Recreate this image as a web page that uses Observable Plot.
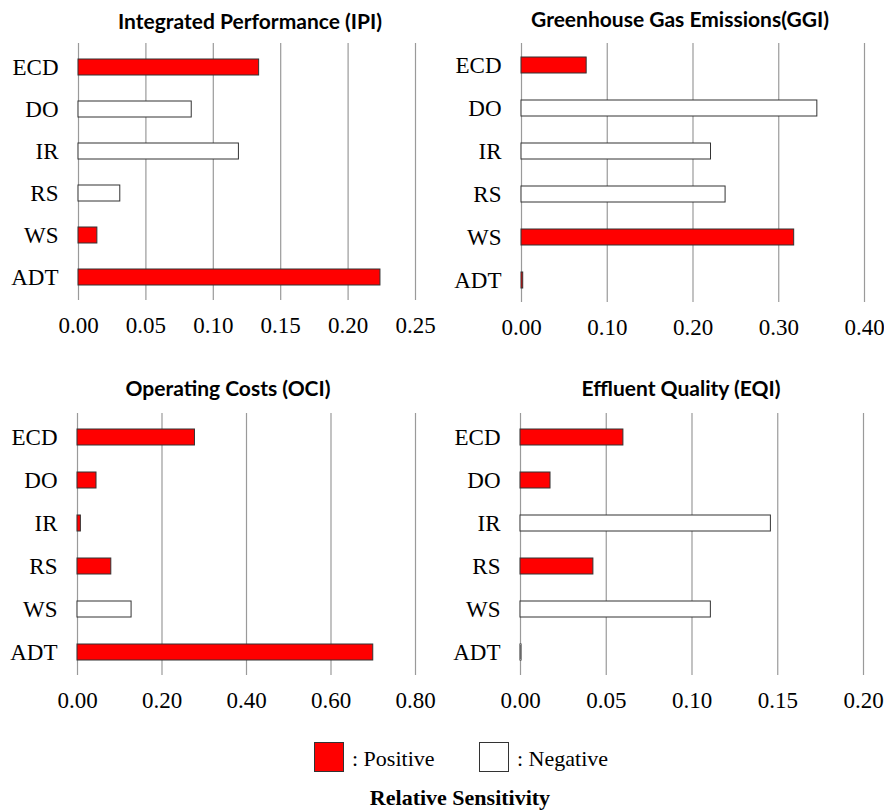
<!DOCTYPE html>
<html>
<head>
<meta charset="utf-8">
<script src="https://cdn.jsdelivr.net/npm/d3@7"></script>
<script src="https://cdn.jsdelivr.net/npm/@observablehq/plot@0.6"></script>
<style>
  html, body { margin: 0; padding: 0; background: #fff; }
  #chart { position: relative; width: 884px; height: 810px; background: #fff; overflow: hidden; }
  .panel { position: absolute; }
  .panel svg text { font-family: "Liberation Serif", "Times New Roman", serif !important; font-size: 23px !important; fill: #000; }
  .title { position: absolute; transform: translate(-50%, -50%); white-space: nowrap;
           font-family: Lato, "Open Sans", sans-serif; font-weight: 700; font-size: 21px; color: #000; }
  .legend-box { position: absolute; width: 30px; height: 30px; border: 1px solid #333; box-sizing: border-box; }
  .legend-text { position: absolute; transform: translateY(-50%); white-space: nowrap;
                 font-family: "Liberation Serif", "Times New Roman", serif; font-size: 22px; color: #000; }
  .axis-title { position: absolute; transform: translate(-50%, -50%); white-space: nowrap;
                font-family: "Liberation Serif", "Times New Roman", serif; font-weight: 700; font-size: 22px; color: #000; }
</style>
</head>
<body>
<div id="chart"></div>
<script>
// ---- Data ----
const categories = ["ECD", "DO", "IR", "RS", "WS", "ADT"];

const ipiValues = [0.134, 0.084, 0.119, 0.031, 0.014, 0.224];
const ipiSigns  = ["Positive", "Negative", "Negative", "Negative", "Positive", "Positive"];
const ipiTicks  = [0, 0.05, 0.10, 0.15, 0.20, 0.25];

const ggiValues = [0.076, 0.345, 0.221, 0.238, 0.318, 0.002];
const ggiSigns  = ["Positive", "Negative", "Negative", "Negative", "Positive", "Positive"];
const ggiTicks  = [0, 0.10, 0.20, 0.30, 0.40];

const ociValues = [0.278, 0.045, 0.008, 0.080, 0.128, 0.700];
const ociSigns  = ["Positive", "Positive", "Positive", "Positive", "Negative", "Positive"];
const ociTicks  = [0, 0.20, 0.40, 0.60, 0.80];

const eqiValues = [0.060, 0.0175, 0.146, 0.0425, 0.111, 0.0006];
const eqiSigns  = ["Positive", "Positive", "Negative", "Positive", "Negative", "Negative"];
const eqiTicks  = [0, 0.05, 0.10, 0.15, 0.20];

const titles = ["Integrated Performance (IPI)", "Greenhouse Gas Emissions(GGI)", "Operating Costs (OCI)", "Effluent Quality (EQI)"];
const legendLabels = [": Positive", ": Negative"];
const axisTitle = "Relative Sensitivity";

// ---- Drawing ----
const chart = document.getElementById("chart");
const colorOf = s => s === "Positive" ? "#ff0000" : "#ffffff";

function panel(values, signs, ticks, cfg) {
  const data = categories.map((c, i) => ({cat: c, value: values[i], sign: signs[i]}));
  const svg = Plot.plot({
    width: 442,
    height: cfg.height,
    marginLeft: cfg.ml, marginRight: cfg.mr, marginTop: cfg.mt, marginBottom: cfg.mb,
    style: {color: "#000", background: "transparent"},
    x: {domain: [ticks[0], ticks[ticks.length - 1]], ticks: ticks, tickFormat: d3.format(".2f"), tickSize: 0, tickPadding: 16, label: null},
    y: {domain: categories, paddingInner: 0.63, paddingOuter: 0.315, tickSize: 0, tickPadding: 20, label: null},
    marks: [
      Plot.ruleX(ticks, {stroke: "#9a9a9a", strokeWidth: 1.2}),
      Plot.barX(data, {x: "value", y: "cat", fill: d => colorOf(d.sign), stroke: "#333", strokeWidth: 1})
    ]
  });
  svg.setAttribute("font-family", '"Liberation Serif", "Times New Roman", serif');
  const wrap = document.createElement("div");
  wrap.className = "panel";
  wrap.style.left = cfg.left + "px";
  wrap.style.top = cfg.top + "px";
  wrap.appendChild(svg);
  chart.appendChild(wrap);
}

panel(ipiValues, ipiSigns, ipiTicks, {left: 0,   top: 0,   height: 345, ml: 78, mr: 27, mt: 43, mb: 45});
panel(ggiValues, ggiSigns, ggiTicks, {left: 442, top: 0,   height: 345, ml: 79, mr: 20, mt: 43, mb: 43});
panel(ociValues, ociSigns, ociTicks, {left: 0,   top: 360, height: 360, ml: 77, mr: 27, mt: 53, mb: 45});
panel(eqiValues, eqiSigns, eqiTicks, {left: 442, top: 360, height: 360, ml: 78, mr: 21, mt: 53, mb: 45});

const titlePos = [[250, 20], [680, 18], [228, 387], [681, 387]];
titles.forEach((t, i) => {
  const d = document.createElement("div");
  d.className = "title";
  d.textContent = t;
  d.style.left = titlePos[i][0] + "px";
  d.style.top = titlePos[i][1] + "px";
  chart.appendChild(d);
});

// Legend
const legendItems = [
  {box: 314, text: 352, sign: "Positive"},
  {box: 479, text: 517, sign: "Negative"}
];
legendItems.forEach((it, i) => {
  const b = document.createElement("div");
  b.className = "legend-box";
  b.style.left = it.box + "px";
  b.style.top = "742px";
  b.style.background = colorOf(it.sign);
  chart.appendChild(b);
  const t = document.createElement("div");
  t.className = "legend-text";
  t.textContent = legendLabels[i];
  t.style.left = it.text + "px";
  t.style.top = "759px";
  chart.appendChild(t);
});
const at = document.createElement("div");
at.className = "axis-title";
at.textContent = axisTitle;
at.style.left = "460px";
at.style.top = "798px";
chart.appendChild(at);
</script>
</body>
</html>
